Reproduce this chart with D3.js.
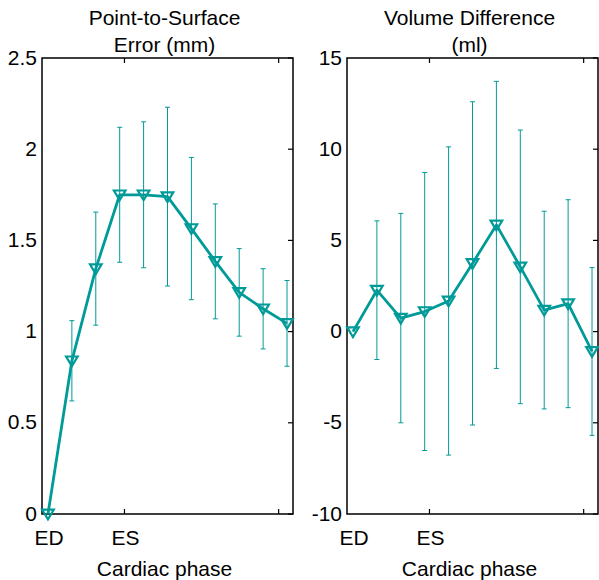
<!DOCTYPE html>
<html><head><meta charset="utf-8">
<script src="https://cdn.jsdelivr.net/npm/d3@7"></script>
<style>body{margin:0;background:#fff}svg{display:block}text{font-family:"Liberation Sans",Arial,sans-serif;fill:#000}</style>
</head><body>
<script>
const phaseIdx = [0,1,2,3,4,5,6,7,8,9,10];
const xTickValues = [0, 3.2, 9.65];
const xTickLabels = ["ED", "ES", ""];
const xTickMarked = [false, true, true];

const errMean = [0, 0.84, 1.345, 1.75, 1.75, 1.74, 1.565, 1.385, 1.215, 1.125, 1.045];
const errSD   = [0, 0.22, 0.31, 0.37, 0.40, 0.49, 0.39, 0.315, 0.24, 0.22, 0.235];
const errTicks = [0, 0.5, 1, 1.5, 2, 2.5];
const errTickLabels = ["0", "0.5", "1", "1.5", "2", "2.5"];

const volMean = [0, 2.27, 0.74, 1.1, 1.68, 3.74, 5.85, 3.55, 1.18, 1.53, -1.09];
const volSD   = [0, 3.8, 5.74, 7.62, 8.45, 8.86, 7.87, 7.5, 5.42, 5.7, 4.6];
const volTicks = [-10, -5, 0, 5, 10, 15];
const volTickLabels = ["-10", "-5", "0", "5", "10", "15"];

const titles = [["Point-to-Surface", "Error (mm)"], ["Volume Difference", "(ml)"]];
const xTitle = "Cardiac phase";

const W = 599, H = 580;
const color = "#009a98";
const svg = d3.select("body").append("svg").attr("width", W).attr("height", H);
svg.append("rect").attr("width", W).attr("height", H).attr("fill", "#fff");

const FS = 20, SX = 1.05;
function txt(g, x, y, s, anchor) {
  return g.append("text").attr("transform", `translate(${x},${y}) scale(${SX},1)`)
    .attr("text-anchor", anchor || "middle").attr("font-size", FS).text(s);
}

function panel(left, mean, sd, yDomain, yTicks, yLabels, title) {
  const top = 58, bottom = 514, right = left + 251;
  const x = d3.scaleLinear().domain([-0.25, 10.25]).range([left, right]);
  const y = d3.scaleLinear().domain(yDomain).range([bottom, top]);
  const g = svg.append("g");
  g.append("rect").attr("x", left).attr("y", top).attr("width", right - left).attr("height", bottom - top)
    .attr("fill", "none").attr("stroke", "#000").attr("stroke-width", 1.5);
  yTicks.forEach((v, i) => {
    const py = y(v);
    g.append("line").attr("x1", right).attr("x2", right - 5).attr("y1", py).attr("y2", py)
      .attr("stroke", "#000").attr("stroke-width", 1.2);
    txt(g, left - 5, py + 6.5, yLabels[i], "end");
  });
  xTickValues.forEach((v, i) => {
    const px = x(v);
    if (xTickMarked[i]) {
      g.append("line").attr("x1", px).attr("x2", px).attr("y1", bottom).attr("y2", bottom - 5)
        .attr("stroke", "#000").attr("stroke-width", 1.2);
      g.append("line").attr("x1", px).attr("x2", px).attr("y1", top).attr("y2", top + 5)
        .attr("stroke", "#000").attr("stroke-width", 1.2);
    }
    if (xTickLabels[i]) txt(g, px + 1, 545, xTickLabels[i], "middle");
  });
  const cx = (left + right) / 2 - 3;
  txt(g, cx, 25, title[0], "middle");
  txt(g, cx, 51.5, title[1], "middle");
  txt(g, cx, 576, xTitle, "middle");

  phaseIdx.forEach((p, i) => {
    if (!sd[i]) return;
    const px = x(p), y1 = y(mean[i] + sd[i]), y2 = y(mean[i] - sd[i]);
    g.append("line").attr("x1", px).attr("x2", px).attr("y1", y1).attr("y2", y2)
      .attr("stroke", color).attr("stroke-width", 1);
    [y1, y2].forEach(yy => g.append("line").attr("x1", px - 2.5).attr("x2", px + 2.5)
      .attr("y1", yy).attr("y2", yy).attr("stroke", color).attr("stroke-width", 1));
  });
  const line = d3.line().x((d, i) => x(phaseIdx[i])).y(d => y(d));
  g.append("path").datum(mean).attr("d", line).attr("fill", "none")
    .attr("stroke", color).attr("stroke-width", 2.8).attr("stroke-linejoin", "round");
  const tri = "M-5.8,-4.3L5.8,-4.3L0,5.4Z";
  phaseIdx.forEach((p, i) => {
    g.append("path").attr("d", tri).attr("transform", `translate(${x(p)},${y(mean[i])})`)
      .attr("fill", "none").attr("stroke", color).attr("stroke-width", 2.2).attr("stroke-linejoin", "miter");
  });
}

panel(42, errMean, errSD, [0, 2.5], errTicks, errTickLabels, titles[0]);
panel(347, volMean, volSD, [-10, 15], volTicks, volTickLabels, titles[1]);
</script>
</body></html>
